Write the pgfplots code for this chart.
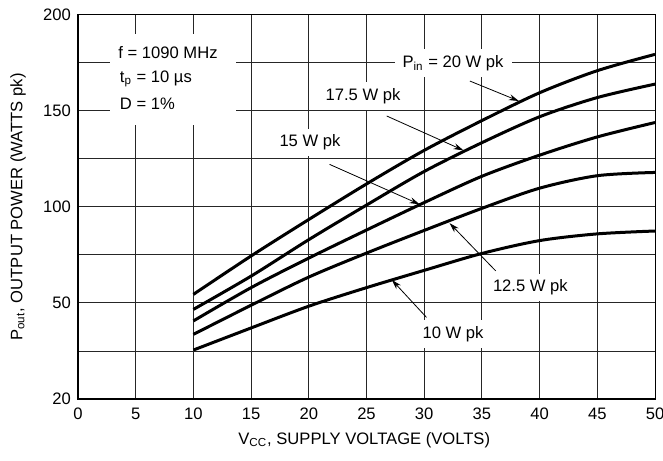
\documentclass[border=0pt]{standalone}
\usepackage{fontspec}
\setmainfont{Liberation Sans}
\usepackage{pgfplots}
\pgfplotsset{compat=1.18}
\usetikzlibrary{arrows.meta}

\begin{document}
\begin{tikzpicture}[font=\fontsize{8.3}{10}\selectfont]
\useasboundingbox (-39pt,-30.5pt) rectangle (292.5pt,199.5pt);
\begin{axis}[
    scale only axis,
    width=288.5pt, height=192pt,
    xmin=0, xmax=50, ymin=20, ymax=200,
    % the scale is linear above 50 and squeezed between 20 and 50
    y coord trafo/.code={\pgfmathparse{50-(50-min(#1,50))*5/3+max(#1-50,0)}},
    xtick={0,5,...,50},
    ytick={20,50,100,150,200},
    yticklabels={20,50,100,150,200},
    minor ytick={35,75,125,175},
    grid=both,
    major grid style={black!85, line width=0.5pt},
    minor grid style={black!85, line width=0.5pt},
    tick style={draw=none},
    axis line style={black, line width=0.5pt},
    /pgf/number format/assume math mode=true,
    xticklabel style={yshift=-1pt},
    xlabel={V\textsubscript{CC}, SUPPLY VOLTAGE (VOLTS)},
    ylabel={P\textsubscript{out}, OUTPUT POWER (WATTS pk)},
    xlabel style={at={(axis description cs:0.496,0)}, anchor=center, yshift=-20.5pt},
    ylabel style={at={(axis description cs:-0.104,0.5)}, anchor=center},
    clip=false,
]
% Pin = 20 W pk
\addplot[black, line width=1.5pt, smooth] coordinates {
  (10,54.5) (15,74.5) (20,93.5) (25,112) (30,129.5) (35,145) (40,159.5) (45,171) (50,179.5)};
% 17.5 W pk
\addplot[black, line width=1.5pt, smooth] coordinates {
  (10,48) (15,64) (20,83) (25,101) (30,118.5) (35,133.5) (40,147) (45,157) (50,164)};
% 15 W pk
\addplot[black, line width=1.5pt, smooth] coordinates {
  (10,44.4) (15,58) (20,73.4) (25,88) (30,102.3) (35,116) (40,127) (45,136.5) (50,144)};
% 12.5 W pk
\addplot[black, line width=1.5pt, smooth] coordinates {
  (10,40.2) (15,49.3) (20,63.5) (25,76) (30,87.8) (35,99.3) (40,109.8) (45,116.3) (50,118)};
% 10 W pk
\addplot[black, line width=1.5pt, smooth] coordinates {
  (10,35.3) (15,42.2) (20,49) (25,58) (30,67) (35,75.8) (40,82.5) (45,86) (50,87.5)};

% thick left and bottom axis lines
\draw[line width=1.3pt] (rel axis cs:0,1) -- (rel axis cs:0,0) -- (rel axis cs:1,0);

% test conditions
\fill[white] (axis cs:2.77,142.7) rectangle (axis cs:13.69,190.1);
\node[anchor=west, inner sep=0pt] at (axis cs:3.47,180.2) {f = 1090 MHz};
\node[anchor=west, inner sep=0pt] at (axis cs:3.6,166.7) {t\textsubscript{p} = 10 µs};
\node[anchor=west, inner sep=0pt] at (axis cs:3.6,153.6) {D = 1\%};

% callouts
\tikzset{callout/.style={-{Stealth[length=5pt,width=3pt]}, line width=0.4pt}}
\draw[callout] (axis cs:33.96,165.6) -- (axis cs:38.2,155.2);
\draw[callout] (axis cs:26.75,147.4) -- (axis cs:33.4,129.5);
\draw[callout] (axis cs:21.8,122.2) -- (axis cs:29.6,101.4);
\draw[callout] (axis cs:36.2,66.7) -- (axis cs:32.2,91.6);
\draw[callout] (axis cs:30.2,45.5) -- (axis cs:27.2,62);

\tikzset{lbl/.style={fill=white, inner xsep=4pt, inner ysep=3pt}}
\node[lbl] at (axis cs:32.5,175) {P\textsubscript{in} = 20 W pk};
\node[lbl] at (axis cs:24.7,157.8) {17.5 W pk};
\node[lbl] at (axis cs:20.1,133.5) {15 W pk};
\node[lbl] at (axis cs:39.2,58) {12.5 W pk};
\node[lbl] at (axis cs:32.5,40.3) {10 W pk};
\end{axis}
\end{tikzpicture}
\end{document}
